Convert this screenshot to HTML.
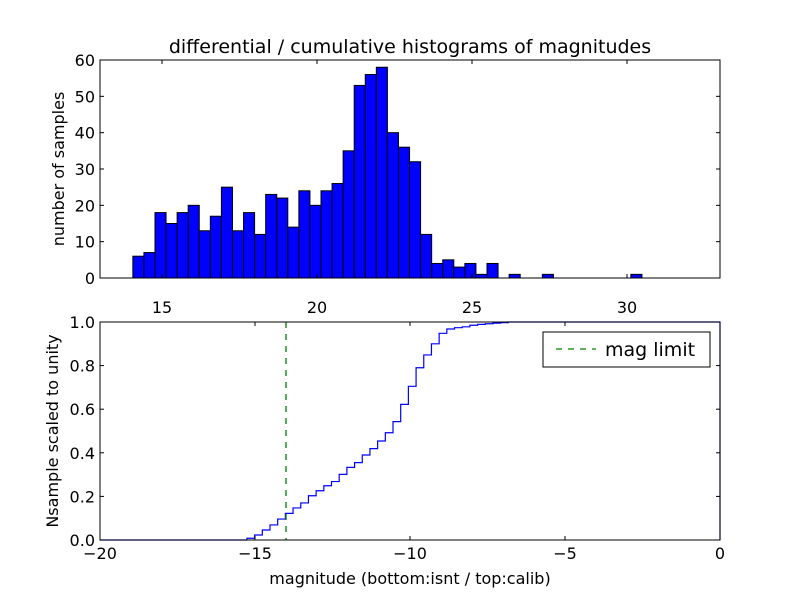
<!DOCTYPE html>
<html><head><meta charset="utf-8"><style>
body{margin:0;background:#fff;}
svg{display:block;font-family:"DejaVu Sans","Liberation Sans",sans-serif;}
</style></head><body>
<svg id="c" width="800" height="600"></svg>
<script>
// Top histogram data
const topBinStart = 14.06;
const topBinWidth = 0.357;
const topCounts = [6,7,18,15,18,20,13,17,25,13,18,12,23,22,14,24,20,24,26,35,53,56,58,40,36,32,12,4,5,3,4,1,4,0,1,0,0,1,0,0,0,0,0,0,0,1];
const topXTicks = [15,20,25,30];
const topYTicks = [0,10,20,30,40,50,60];
// Bottom cumulative data
const botBinStart = -15.26;
const botBinWidth = 0.248;
const botCum = [0.008,0.023,0.046,0.069,0.096,0.122,0.147,0.170,0.203,0.226,0.249,0.268,0.301,0.333,0.355,0.390,0.419,0.454,0.492,0.543,0.622,0.705,0.790,0.849,0.900,0.948,0.968,0.974,0.978,0.985,0.989,0.992,0.995,0.997,1.0];
const botXTicks = [-20,-15,-10,-5,0];
const botYTicks = [0.0,0.2,0.4,0.6,0.8,1.0];
const magLimit = -14;

const NS="http://www.w3.org/2000/svg";
const svg=document.getElementById('c');
function mk(tag,attrs,parent){const e=document.createElementNS(NS,tag);for(const k in attrs)e.setAttribute(k,attrs[k]);(parent||svg).appendChild(e);return e;}
const L=100,R=720;
const T1=60,B1=278,T2=322,B2=540;
const tx=v=>L+(v-13)/20*(R-L);
const ty=v=>B1-v/60*(B1-T1);
const bx=v=>L+(v+20)/20*(R-L);
const by=v=>B2-v*(B2-T2);

// title
let t=mk('text',{x:410,y:53,'text-anchor':'middle','font-size':19});
t.textContent='differential / cumulative histograms of magnitudes';



// top bars
const gBars=mk('g',{});


topCounts.forEach((c,i)=>{
  if(c<=0)return;
  const x0=tx(topBinStart+i*topBinWidth),x1=tx(topBinStart+(i+1)*topBinWidth);
  const r=mk('rect',{x:x0,y:ty(c),width:x1-x0,height:ty(0)-ty(c),fill:'#0000ff',stroke:'#000','stroke-width':1},gBars);
  
  
});
// top frame
let f1=mk('rect',{x:L,y:T1,width:R-L,height:B1-T1,fill:'none',stroke:'#000','stroke-width':1});


topYTicks.forEach(v=>{
  const y=ty(v);
  mk('line',{x1:L,y1:y,x2:L+4,y2:y,stroke:'#000'});
  mk('line',{x1:R,y1:y,x2:R-4,y2:y,stroke:'#000'});
  const l=mk('text',{x:L-5,y:y+6,'text-anchor':'end','font-size':16});
  l.textContent=v;
  
  
});
topXTicks.forEach(v=>{
  const x=tx(v);
  mk('line',{x1:x,y1:B1,x2:x,y2:B1-4,stroke:'#000'});
  mk('line',{x1:x,y1:T1,x2:x,y2:T1+4,stroke:'#000'});
  const l=mk('text',{x:x,y:313,'text-anchor':'middle','font-size':16});
  l.textContent=v;
  
  
});
let yl1=mk('text',{x:0,y:0,'text-anchor':'middle','font-size':16,transform:'translate(64,169) rotate(-90)'});
yl1.textContent='number of samples';



// bottom cumulative step line
let d='M'+bx(-20)+','+by(0)+' L'+bx(botBinStart)+','+by(0);
botCum.forEach((c,i)=>{
  const x0=bx(botBinStart+i*botBinWidth),x1=bx(botBinStart+(i+1)*botBinWidth);
  d+=' L'+x0+','+by(c)+' L'+x1+','+by(c);
});
d+=' L'+bx(0)+','+by(1)+' L'+bx(0)+','+by(0);
let p=mk('path',{d:d,fill:'none',stroke:'#0000ff','stroke-width':1.2});


let ml=mk('line',{x1:bx(magLimit),y1:T2,x2:bx(magLimit),y2:B2,stroke:'#008000','stroke-width':1.3,'stroke-dasharray':'6,6'});


let f2=mk('rect',{x:L,y:T2,width:R-L,height:B2-T2,fill:'none',stroke:'#000','stroke-width':1});


botYTicks.forEach(v=>{
  const y=by(v);
  mk('line',{x1:L,y1:y,x2:L+4,y2:y,stroke:'#000'});
  mk('line',{x1:R,y1:y,x2:R-4,y2:y,stroke:'#000'});
  const l=mk('text',{x:L-5,y:y+6,'text-anchor':'end','font-size':16});
  l.textContent=v.toFixed(1);
  
  
});
botXTicks.forEach(v=>{
  const x=bx(v);
  mk('line',{x1:x,y1:B2,x2:x,y2:B2-4,stroke:'#000'});
  mk('line',{x1:x,y1:T2,x2:x,y2:T2+4,stroke:'#000'});
  const l=mk('text',{x:x,y:559,'text-anchor':'middle','font-size':16});
  l.textContent=v<0?'\u2212'+(-v):v;
  
  
});
let xl=mk('text',{x:410,y:584,'text-anchor':'middle','font-size':16});
xl.textContent='magnitude (bottom:isnt / top:calib)';


let yl2=mk('text',{x:0,y:0,'text-anchor':'middle','font-size':16,transform:'translate(58,431) rotate(-90)'});
yl2.textContent='Nsample scaled to unity';



// legend
const lg=mk('g',{});


mk('rect',{x:543,y:332,width:167,height:35,fill:'#fff',stroke:'#000'},lg);
mk('line',{x1:556,y1:349,x2:596,y2:349,stroke:'#008000','stroke-width':1.3,'stroke-dasharray':'6,6'},lg);
let lt=mk('text',{x:605,y:356,'font-size':19},lg);
lt.textContent='mag limit';


</script>
</body></html>
